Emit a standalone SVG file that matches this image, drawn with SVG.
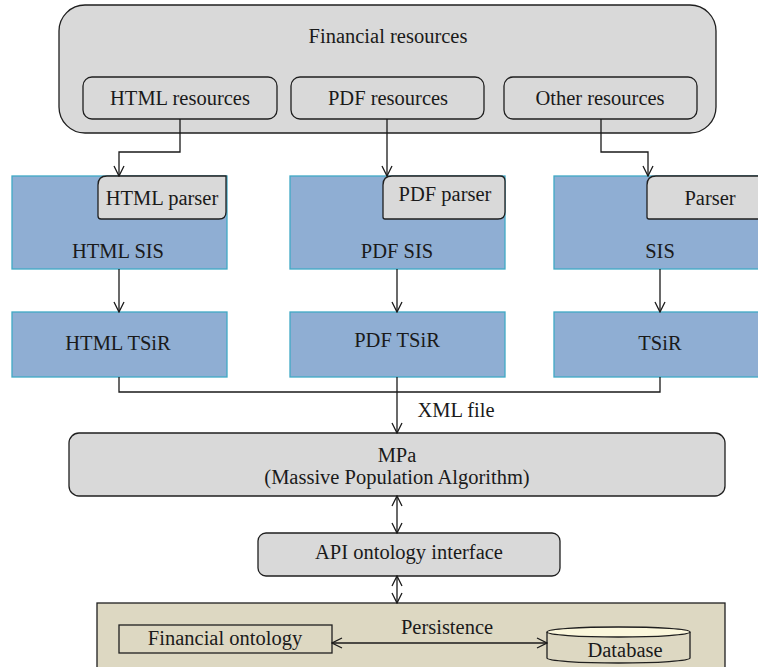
<svg xmlns="http://www.w3.org/2000/svg" width="758" height="667" viewBox="0 0 758 667">
  <style>
    text { font-family: "Liberation Serif", "Times New Roman", serif; font-size: 20.5px; fill: #1a1a1a; text-anchor: middle; }
    .gray { fill: #d9d9d9; stroke: #1f1f1f; stroke-width: 1.3; }
    .blue { fill: #8faed3; stroke: #3fa9c5; stroke-width: 1.3; }
    .beige { fill: #ddd8c2; stroke: #1f1f1f; stroke-width: 1.3; }
    .line { fill: none; stroke: #1a1a1a; stroke-width: 1.3; }
  </style>
  <defs>
    <marker id="arrow" viewBox="0 0 12 12" refX="11" refY="6" markerWidth="12" markerHeight="12" markerUnits="userSpaceOnUse" orient="auto-start-reverse">
      <path d="M1,1 L11,6 L1,11" fill="none" stroke="#1a1a1a" stroke-width="1.3"/>
    </marker>
  </defs>

  <!-- source container -->
  <g id="financial-resources">
    <rect class="gray" x="59" y="5" width="657" height="128" rx="26"/>
    <text x="388" y="43">Financial resources</text>
  </g>
  <g id="html-resources">
    <rect class="gray" x="83" y="77" width="194" height="42" rx="9"/>
    <text x="180" y="105">HTML resources</text>
  </g>
  <g id="pdf-resources">
    <rect class="gray" x="291" y="77" width="193" height="42" rx="9"/>
    <text x="388" y="105">PDF resources</text>
  </g>
  <g id="other-resources">
    <rect class="gray" x="504" y="77" width="193" height="42" rx="9"/>
    <text x="600" y="105">Other resources</text>
  </g>

  <!-- SIS blocks with parsers -->
  <g id="html-sis">
    <rect class="blue" x="12" y="176" width="215" height="93"/>
    <path class="gray" d="M107,176 H226 V212 Q226,219 219,219 H101 Q98,219 98,216 V185 Q98,176 107,176 Z"/>
    <text x="162" y="205">HTML parser</text>
    <text x="118" y="258">HTML SIS</text>
  </g>
  <g id="pdf-sis">
    <rect class="blue" x="290" y="176" width="215" height="93"/>
    <path class="gray" d="M392,176 H500 Q505,176 505,181 V212 Q505,219 498,219 H385 Q383,219 383,217 V185 Q383,176 392,176 Z"/>
    <text x="445" y="201">PDF parser</text>
    <text x="397" y="258">PDF SIS</text>
  </g>
  <g id="other-sis">
    <rect class="blue" x="554" y="176" width="215" height="93"/>
    <path class="gray" d="M656,176 H770 V219 H649 Q647,219 647,217 V185 Q647,176 656,176 Z"/>
    <text x="710" y="205">Parser</text>
    <text x="660" y="258">SIS</text>
  </g>

  <!-- TSiR blocks -->
  <g id="html-tsir">
    <rect class="blue" x="12" y="312" width="215" height="65"/>
    <text x="118" y="350">HTML TSiR</text>
  </g>
  <g id="pdf-tsir">
    <rect class="blue" x="290" y="312" width="215" height="65"/>
    <text x="397" y="347">PDF TSiR</text>
  </g>
  <g id="other-tsir">
    <rect class="blue" x="554" y="312" width="215" height="65"/>
    <text x="660" y="350">TSiR</text>
  </g>

  <!-- population algorithm -->
  <g id="mpa">
    <rect class="gray" x="69" y="433" width="656" height="63" rx="10"/>
    <text x="397" y="462">MPa</text>
    <text x="397" y="484">(Massive Population Algorithm)</text>
  </g>
  <g id="api">
    <rect class="gray" x="258" y="533" width="302" height="43" rx="8"/>
    <text x="409" y="559">API ontology interface</text>
  </g>

  <!-- persistence layer -->
  <g id="persistence-layer">
    <rect class="beige" x="97" y="603" width="628" height="70"/>
  </g>
  <g id="financial-ontology">
    <rect fill="#ddd8c2" stroke="#1f1f1f" stroke-width="1.3" x="119" y="625" width="213" height="28"/>
    <text x="225" y="645">Financial ontology</text>
  </g>
  <g id="database">
    <path fill="#ddd8c2" stroke="#1f1f1f" stroke-width="1.3" d="M547,632 V658 A71.5,5 0 0 0 690,658 V632"/>
    <ellipse cx="618.5" cy="632" rx="71.5" ry="5" fill="#fbf7dc" stroke="#1f1f1f" stroke-width="1.3"/>
    <text x="625" y="657">Database</text>
  </g>

  <!-- connectors -->
  <g id="connectors">
    <polyline class="line" points="180,119 180,152 119,152 119,176" marker-end="url(#arrow)"/>
    <line class="line" x1="387" y1="119" x2="387" y2="176" marker-end="url(#arrow)"/>
    <polyline class="line" points="601,119 601,152 648,152 648,176" marker-end="url(#arrow)"/>

    <line class="line" x1="119" y1="269" x2="119" y2="312" marker-end="url(#arrow)"/>
    <line class="line" x1="397" y1="269" x2="397" y2="312" marker-end="url(#arrow)"/>
    <line class="line" x1="660" y1="269" x2="660" y2="312" marker-end="url(#arrow)"/>

    <polyline class="line" points="119,377 119,392 660,392 660,377"/>
    <line class="line" x1="397" y1="377" x2="397" y2="433" marker-end="url(#arrow)"/>
    <text x="456" y="417">XML file</text>

    <line class="line" x1="397" y1="496" x2="397" y2="533" marker-start="url(#arrow)" marker-end="url(#arrow)"/>
    <line class="line" x1="397" y1="576" x2="397" y2="603" marker-start="url(#arrow)" marker-end="url(#arrow)"/>

    <line class="line" x1="332" y1="643" x2="547" y2="643" marker-start="url(#arrow)" marker-end="url(#arrow)"/>
    <text x="447" y="634">Persistence</text>
  </g>
</svg>
